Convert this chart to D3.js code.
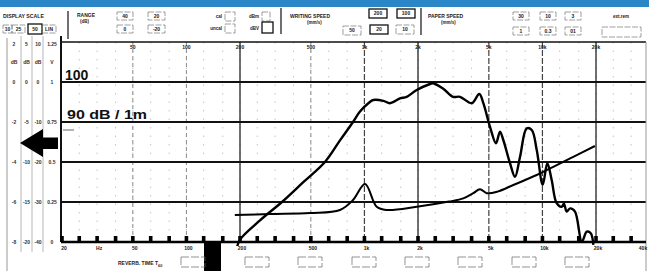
<!DOCTYPE html>
<html><head><meta charset="utf-8">
<script src="https://cdn.jsdelivr.net/npm/d3@7"></script>
<style>
html,body{margin:0;padding:0;background:#fff;}
svg{display:block;font-family:"Liberation Sans",Arial,sans-serif;}
</style></head>
<body>
<svg id="c" width="649" height="271"></svg>
<script>
// ---------- data ----------
const mainFreq = [192, 200, 259, 344, 452, 600, 729, 863, 944, 1060, 1122, 1277, 1393, 1585, 1728, 1968, 2336, 2428, 2762, 3146, 3443, 4006, 4418, 4656, 5075, 5484, 5774, 6028, 6574, 7014, 7486, 8160, 8710, 9290, 10040, 10650, 11270, 12020, 12830, 13200, 13690, 14300, 15240, 16640, 17750, 18680, 19330];
const mainDb   = [58.5, 60.6, 65.4, 70.0, 74.9, 80.0, 85.4, 90.0, 92.6, 94.8, 95.5, 95.3, 94.7, 95.9, 96.3, 98.0, 99.5, 99.7, 98.4, 96.3, 96.3, 94.7, 97.0, 94.7, 88.8, 84.7, 87.6, 85.5, 79.7, 76.3, 81.3, 88.4, 88.0, 83.0, 74.3, 79.7, 75.5, 69.7, 68.8, 69.6, 67.6, 68.4, 67.6, 60.1, 62.6, 62.2, 59.3];
const impFreq = [187, 295, 495, 729, 863, 1008, 1172, 1334, 1968, 2986, 3594, 4090, 4458, 4863, 5593, 6860, 9290, 11510, 14910, 19720];
const impDb   = [66.75, 67.0, 67.25, 68.0, 70.5, 74.5, 68.8, 68.0, 68.8, 70.1, 70.9, 72.2, 73.2, 72.2, 72.6, 74.25, 76.75, 78.8, 81.3, 84.0];
const gridDb = [100, 90, 80, 70];
const topLabels = ["50", "100", "200", "500", "1k", "2k", "5k", "10k", "20k"];
const topLabelFreq = [50, 100, 200, 500, 1000, 2000, 5000, 10000, 20000];
const bottomLabels = ["20", "Hz", "50", "100", "200", "500", "1k", "2k", "5k", "10k", "20k", "40k"];
const bottomLabelFreq = [20, 31.5, 50, 100, 200, 500, 1000, 2000, 5000, 10000, 20000, 40000];
const thirdOct = [20,25,31.5,40,50,63,80,100,125,160,200,250,315,400,500,630,800,1000,1250,1600,2000,2500,3150,4000,5000,6300,8000,10000,12500,16000,20000,25000,31500,40000];
const scaleRowsDb = [110, 100, 90, 80, 70, 60];
const scale10  = ["2", "0", "-2", "-4", "-6", "-8"];
const scale25  = ["5", "0", "-5", "-10", "-15", "-20"];
const scale50  = ["10", "0", "-10", "-20", "-30", "-40"];
const scaleLin = ["1.25", "1", "0.75", "0.5", "0.25", "0"];

// ---------- scales ----------
const svg = d3.select("#c");
const x = d3.scaleLog().domain([20, 40000]).range([62, 649.6]);
const y = d3.scaleLinear().domain([60, 110]).range([242, 42]);
const X0 = 61, X1 = 646, Y0 = 42, Y1 = 242;

// top blue strip
svg.append("rect").attr("x",0).attr("y",0).attr("width",649).attr("height",7).attr("fill","#2a86c6");

// ---------- header ----------
const hdr = svg.append("g").attr("font-weight","bold").attr("fill","#222");
function txt(t, tx, ty, size, anchor){ hdr.append("text").attr("x",tx).attr("y",ty).attr("font-size",size||5).attr("text-anchor",anchor||"start").text(t); }
function box(label, x0, x1, y0, y1, thick){
  hdr.append("rect").attr("x",x0).attr("y",y0).attr("width",x1-x0).attr("height",y1-y0)
    .attr("fill","none").attr("stroke", thick?"#111":"#777").attr("stroke-width", thick?1.3:0.7)
    .attr("stroke-dasharray", thick?null:"6,1.5");
  if(label!=="") txt(label, (x0+x1)/2, (y0+y1)/2+1.8, 5, "middle");
}
txt("DISPLAY SCALE", 3, 18, 5.2);
box("10", 3, 12, 25, 33); box("25", 12, 25, 25, 33); box("50", 28, 42, 24, 34, true); box("LIN", 42, 56, 25, 33);
txt("RANGE", 77, 17, 5); txt("(dB)", 80, 23, 4.5);
box("40", 117, 133, 12, 20); box("20", 148, 165, 12, 20); box("0", 117, 133, 25, 33); box("-20", 148, 165, 25, 33);
txt("cal", 222, 18, 4.5, "end"); box("", 225, 235, 12, 21);
txt("uncal", 222, 30, 4.5, "end"); box("", 225, 235, 24, 33);
txt("dBm", 259, 18, 4.5, "end"); box("", 262, 270, 12, 21);
txt("dBV", 259, 30, 4.5, "end"); box("", 262, 273, 22, 33, true);
txt("WRITING SPEED", 290, 18, 5); txt("(mm/s)", 307, 24, 4.5);
box("200", 369, 387, 9, 18, true); box("100", 397, 415, 9, 18, true);
box("50", 343, 361, 26, 35); box("20", 370, 388, 25, 34, true); box("10", 396, 414, 25, 34);
txt("PAPER SPEED", 428, 18, 5); txt("(mm/s)", 441, 24, 4.5);
box("30", 513, 529, 12, 20); box("10", 540, 556, 12, 20); box("3", 565, 581, 12, 20);
box("1", 513, 529, 27, 35); box("0.3", 540, 556, 27, 35); box("01", 565, 581, 27, 35);
txt("ext.rem", 621, 18, 4.5, "middle"); box("", 602, 641, 27, 37);
[[68,11,39],[281,8,34],[421,8,35]].forEach(d=>{
  svg.append("line").attr("x1",d[0]).attr("x2",d[0]).attr("y1",d[1]).attr("y2",d[2]).attr("stroke","#222").attr("stroke-width",1.3);
});

// ---------- left scale panel ----------
svg.append("line").attr("x1",7).attr("x2",7).attr("y1",38).attr("y2",271).attr("stroke","#bbb").attr("stroke-width",1.5);
[21,32,43].forEach(vx=>{
  svg.append("line").attr("x1",vx).attr("x2",vx).attr("y1",36).attr("y2",252).attr("stroke","#999").attr("stroke-width",0.7);
});
const colX = [14, 26.5, 38, 52];
const cols = [scale10, scale25, scale50, scaleLin];
const lg = svg.append("g").attr("font-size",5).attr("font-weight","bold").attr("fill","#333").attr("text-anchor","middle");
cols.forEach((c,i)=>{
  c.forEach((v,j)=>{ lg.append("text").attr("x",colX[i]).attr("y",y(scaleRowsDb[j])+ (j===0?4:2)).text(v); });
  lg.append("text").attr("x",colX[i]).attr("y",64).text(i<3?"dB":"V");
});
// arrow
svg.append("path").attr("d","M20,143 L43,129 L43,137.5 L58,137.5 L58,149 L43,149 L43,157 Z").attr("fill","#000");

// ---------- grid ----------
const grid = svg.append("g");
thirdOct.filter(f=>x(f)>X0+2 && x(f)<X1-1).forEach(f=>{
  grid.append("line").attr("x1",x(f)).attr("x2",x(f)).attr("y1",Y0).attr("y2",Y1)
    .attr("stroke","#b5b5b5").attr("stroke-width",0.8).attr("stroke-dasharray","1.5,7");
});
const strongSolid = [200, 2000, 20000];
const darkDash = [1000, 5000, 10000];
const lightDash = [50, 100, 500];
lightDash.forEach(f=>grid.append("line").attr("x1",x(f)).attr("x2",x(f)).attr("y1",Y0).attr("y2",Y1).attr("stroke","#8a8a8a").attr("stroke-width",1).attr("stroke-dasharray","4,3"));
darkDash.forEach(f=>grid.append("line").attr("x1",x(f)).attr("x2",x(f)).attr("y1",Y0).attr("y2",Y1).attr("stroke","#444").attr("stroke-width",1.2).attr("stroke-dasharray","6,2"));
strongSolid.forEach(f=>grid.append("line").attr("x1",x(f)).attr("x2",x(f)).attr("y1",Y0).attr("y2",Y1).attr("stroke","#222").attr("stroke-width",1.3));
gridDb.forEach(d=>grid.append("line").attr("x1",X0).attr("x2",X1).attr("y1",y(d)).attr("y2",y(d)).attr("stroke","#111").attr("stroke-width",1.8));
svg.append("line").attr("x1",X0).attr("x2",X1).attr("y1",Y0).attr("y2",Y0).attr("stroke","#111").attr("stroke-width",1.5);
svg.append("line").attr("x1",X0).attr("x2",X0).attr("y1",Y0-6).attr("y2",Y1).attr("stroke","#111").attr("stroke-width",2);
svg.append("line").attr("x1",X1).attr("x2",X1).attr("y1",Y0).attr("y2",271).attr("stroke","#999").attr("stroke-width",1);
svg.append("line").attr("x1",X0).attr("x2",X1).attr("y1",Y1).attr("y2",Y1).attr("stroke","#000").attr("stroke-width",2.5);
thirdOct.filter(f=>x(f)<X1-2).forEach(f=>{
  svg.append("rect").attr("x",x(f)-1.8).attr("y",Y1-6).attr("width",3.6).attr("height",6).attr("fill","#000");
});

// labels
const tl = svg.append("g").attr("font-size",5).attr("font-weight","bold").attr("fill","#222").attr("text-anchor","middle");
topLabels.forEach((t,i)=>tl.append("text").attr("x",x(topLabelFreq[i])).attr("y",48.5).text(t));
bottomLabels.forEach((t,i)=>tl.append("text").attr("x",Math.min(x(bottomLabelFreq[i])+2, 643)).attr("y",250).text(t));

svg.append("text").attr("x",65).attr("y",80).attr("font-size",14).attr("font-weight","bold").attr("fill","#111").text("100");
svg.append("text").attr("x",67).attr("y",119).attr("font-size",12).attr("font-weight","bold").attr("fill","#111")
  .attr("textLength",80).attr("lengthAdjust","spacingAndGlyphs").text("90 dB / 1m");
svg.append("line").attr("x1",63).attr("x2",74).attr("y1",130).attr("y2",130).attr("stroke","#666").attr("stroke-width",1);

// ---------- curves ----------
svg.append("defs").append("clipPath").attr("id","pc").append("rect").attr("x",X0).attr("y",Y0).attr("width",X1-X0).attr("height",Y1-Y0+4);
const line = d3.line().x(d=>x(d[0])).y(d=>y(d[1])).curve(d3.curveCatmullRom.alpha(0.5));
const cg = svg.append("g").attr("clip-path","url(#pc)");
cg.append("path").attr("d", line(impFreq.map((f,i)=>[f, impDb[i]]))).attr("fill","none").attr("stroke","#000").attr("stroke-width",2).attr("stroke-linejoin","round");
cg.append("path").attr("d", line(mainFreq.map((f,i)=>[f, mainDb[i]]))).attr("fill","none").attr("stroke","#000").attr("stroke-width",2.4).attr("stroke-linejoin","round");

// ---------- bottom reverb row ----------
svg.append("rect").attr("x",204).attr("y",Y1+1).attr("width",17).attr("height",271-Y1).attr("fill","#000");
const rv = svg.append("text").attr("x",118).attr("y",265).attr("font-size",5).attr("font-weight","bold").attr("fill","#222");
rv.append("tspan").text("REVERB. TIME T");
rv.append("tspan").attr("font-size",3.8).attr("dy",1.5).text("60");
const reverbBoxes = [181, 245, 298, 352, 405, 458, 512, 565];
reverbBoxes.forEach(bx=>{
  svg.append("rect").attr("x",bx).attr("y",257).attr("width",24).attr("height",10).attr("fill","none")
    .attr("stroke","#666").attr("stroke-width",0.7).attr("stroke-dasharray","8,2");
});
</script>
</body></html>
